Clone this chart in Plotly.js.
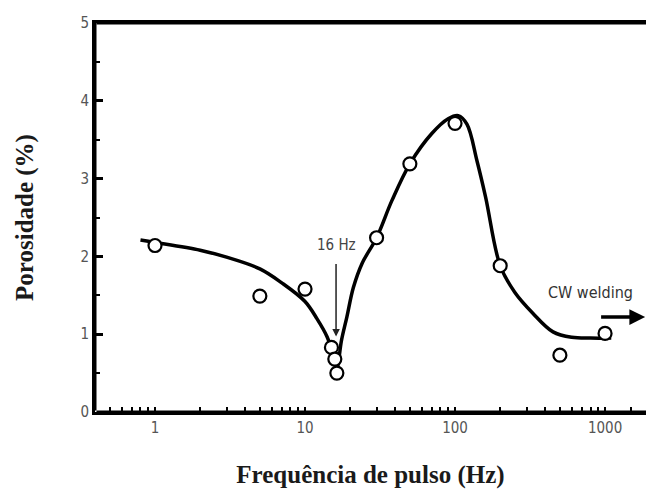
<!DOCTYPE html>
<html>
<head>
<meta charset="utf-8">
<script src="https://cdn.plot.ly/plotly-3.0.1.min.js"></script>
<style>html,body{margin:0;padding:0;background:#fff;}#chart{width:646px;height:495px;}</style>
</head>
<body>
<div id="chart"></div>
<script>
// Measured points
const freqPoints = [1, 5, 10, 15, 15.8, 16.3, 30, 50, 100, 200, 500, 1000];
const porosityPoints = [2.14, 1.49, 1.58, 0.83, 0.68, 0.5, 2.24, 3.19, 3.71, 1.88, 0.73, 1.01];
// Fitted curve
const curveFreq = [0.8, 1, 2, 3, 5, 7, 10, 12, 14, 15.5, 16.3, 17.5, 19, 21, 24, 30, 38, 50, 70, 90, 105, 120, 140, 160, 200, 250, 330, 450, 600, 800, 1100];
const curvePorosity = [2.21, 2.18, 2.08, 1.99, 1.84, 1.66, 1.42, 1.2, 0.97, 0.72, 0.56, 0.92, 1.22, 1.6, 1.91, 2.24, 2.72, 3.19, 3.58, 3.77, 3.81, 3.7, 3.23, 2.76, 1.88, 1.54, 1.27, 1.03, 0.96, 0.95, 0.95];
// x tick positions (log axis) and labels
const xTickVals = [0.5, 0.6, 0.7, 0.8, 0.9, 1, 2, 3, 4, 5, 6, 7, 8, 9, 10, 20, 30, 40, 50, 60, 70, 80, 90, 100, 200, 300, 400, 500, 600, 700, 800, 900, 1000, 1500];
const xTickText = ['', '', '', '', '', '1', '', '', '', '', '', '', '', '', '10', '', '', '', '', '', '', '', '', '100', '', '', '', '', '', '', '', '', '1000', ''];
const xTitle = 'Frequência de pulso (Hz)';
const yTitle = 'Porosidade (%)';

const tickFont = {family: "'DejaVu Sans Condensed', 'DejaVu Sans', sans-serif", size: 15, color: '#555'};
const titleFont = {family: "'Liberation Serif', 'Times New Roman', serif", size: 25, color: '#1a1a1a', weight: 'bold'};
const noteFont = {family: "'DejaVu Sans Condensed', 'DejaVu Sans', sans-serif", size: 15, color: '#444'};

const traces = [
  {x: curveFreq, y: curvePorosity, type: 'scatter', mode: 'lines',
   line: {color: '#000', width: 3.5, shape: 'spline', smoothing: 1}, hoverinfo: 'skip', showlegend: false},
  {x: freqPoints, y: porosityPoints, type: 'scatter', mode: 'markers',
   marker: {symbol: 'circle', size: 13, color: '#fff', line: {color: '#000', width: 2.2}}, showlegend: false}
];

// frame edges drawn as plain (headless) arrows in axis-domain units, as a fallback for the axis lines
function frameEdge(x0, y0, x1, y1) {
  return {xref: 'x domain', yref: 'y domain', axref: 'x domain', ayref: 'y domain',
          x: x1, y: y1, ax: x0, ay: y0, text: '', showarrow: true, arrowhead: 0,
          arrowwidth: 3, arrowcolor: '#000', standoff: 0, startstandoff: 0};
}

const layout = {
  width: 646, height: 495,
  margin: {l: 95, r: 0, t: 23, b: 83},
  showlegend: false,
  xaxis: {
    type: 'log', range: [-0.4, 3.273],
    tickmode: 'array', tickvals: xTickVals, ticktext: xTickText,
    ticks: 'inside', ticklen: 5, tickwidth: 2, tickcolor: '#000',
    showline: true, linewidth: 3, linecolor: '#000', mirror: true, showgrid: false,
    tickfont: tickFont,
    title: {text: xTitle, font: titleFont, standoff: 30}
  },
  yaxis: {
    range: [0, 5], tickmode: 'linear', tick0: 0, dtick: 1,
    ticks: 'inside', ticklen: 8, tickwidth: 2.5, tickcolor: '#000',
    minor: {tick0: 0, dtick: 0.5, ticks: 'inside', ticklen: 5, tickwidth: 2, tickcolor: '#000'},
    showline: true, linewidth: 3, linecolor: '#000', showgrid: false,
    tickfont: tickFont,
    title: {text: yTitle, font: titleFont, standoff: 40}
  },
  annotations: [
    frameEdge(0, 1, 1, 1),
    frameEdge(0, 0, 0, 1),
    frameEdge(0, 0, 1, 0),
    {x: Math.log10(16.1), y: 2.15, xref: 'x', yref: 'y', text: '16 Hz', showarrow: false, font: noteFont},
    {x: Math.log10(16.1), y: 0.97, ax: Math.log10(16.1), ay: 1.92, xref: 'x', yref: 'y', axref: 'x', ayref: 'y',
     text: '', showarrow: true, arrowhead: 2, arrowsize: 1, arrowwidth: 1.5, arrowcolor: '#222'},
    {x: Math.log10(800), y: 1.53, xref: 'x', yref: 'y', text: 'CW welding', showarrow: false,
     font: {family: noteFont.family, size: 16, color: '#333'}},
    {x: Math.log10(1850), y: 1.22, ax: Math.log10(920), ay: 1.22, xref: 'x', yref: 'y', axref: 'x', ayref: 'y',
     text: '', showarrow: true, arrowhead: 2, arrowsize: 0.9, arrowwidth: 3.5, arrowcolor: '#000'}
  ]
};

Plotly.newPlot('chart', traces, layout, {displayModeBar: false}).then(function (gd) {
  return Plotly.relayout(gd, {'xaxis.linewidth': 3, 'yaxis.linewidth': 3});
});
</script>
</body>
</html>
